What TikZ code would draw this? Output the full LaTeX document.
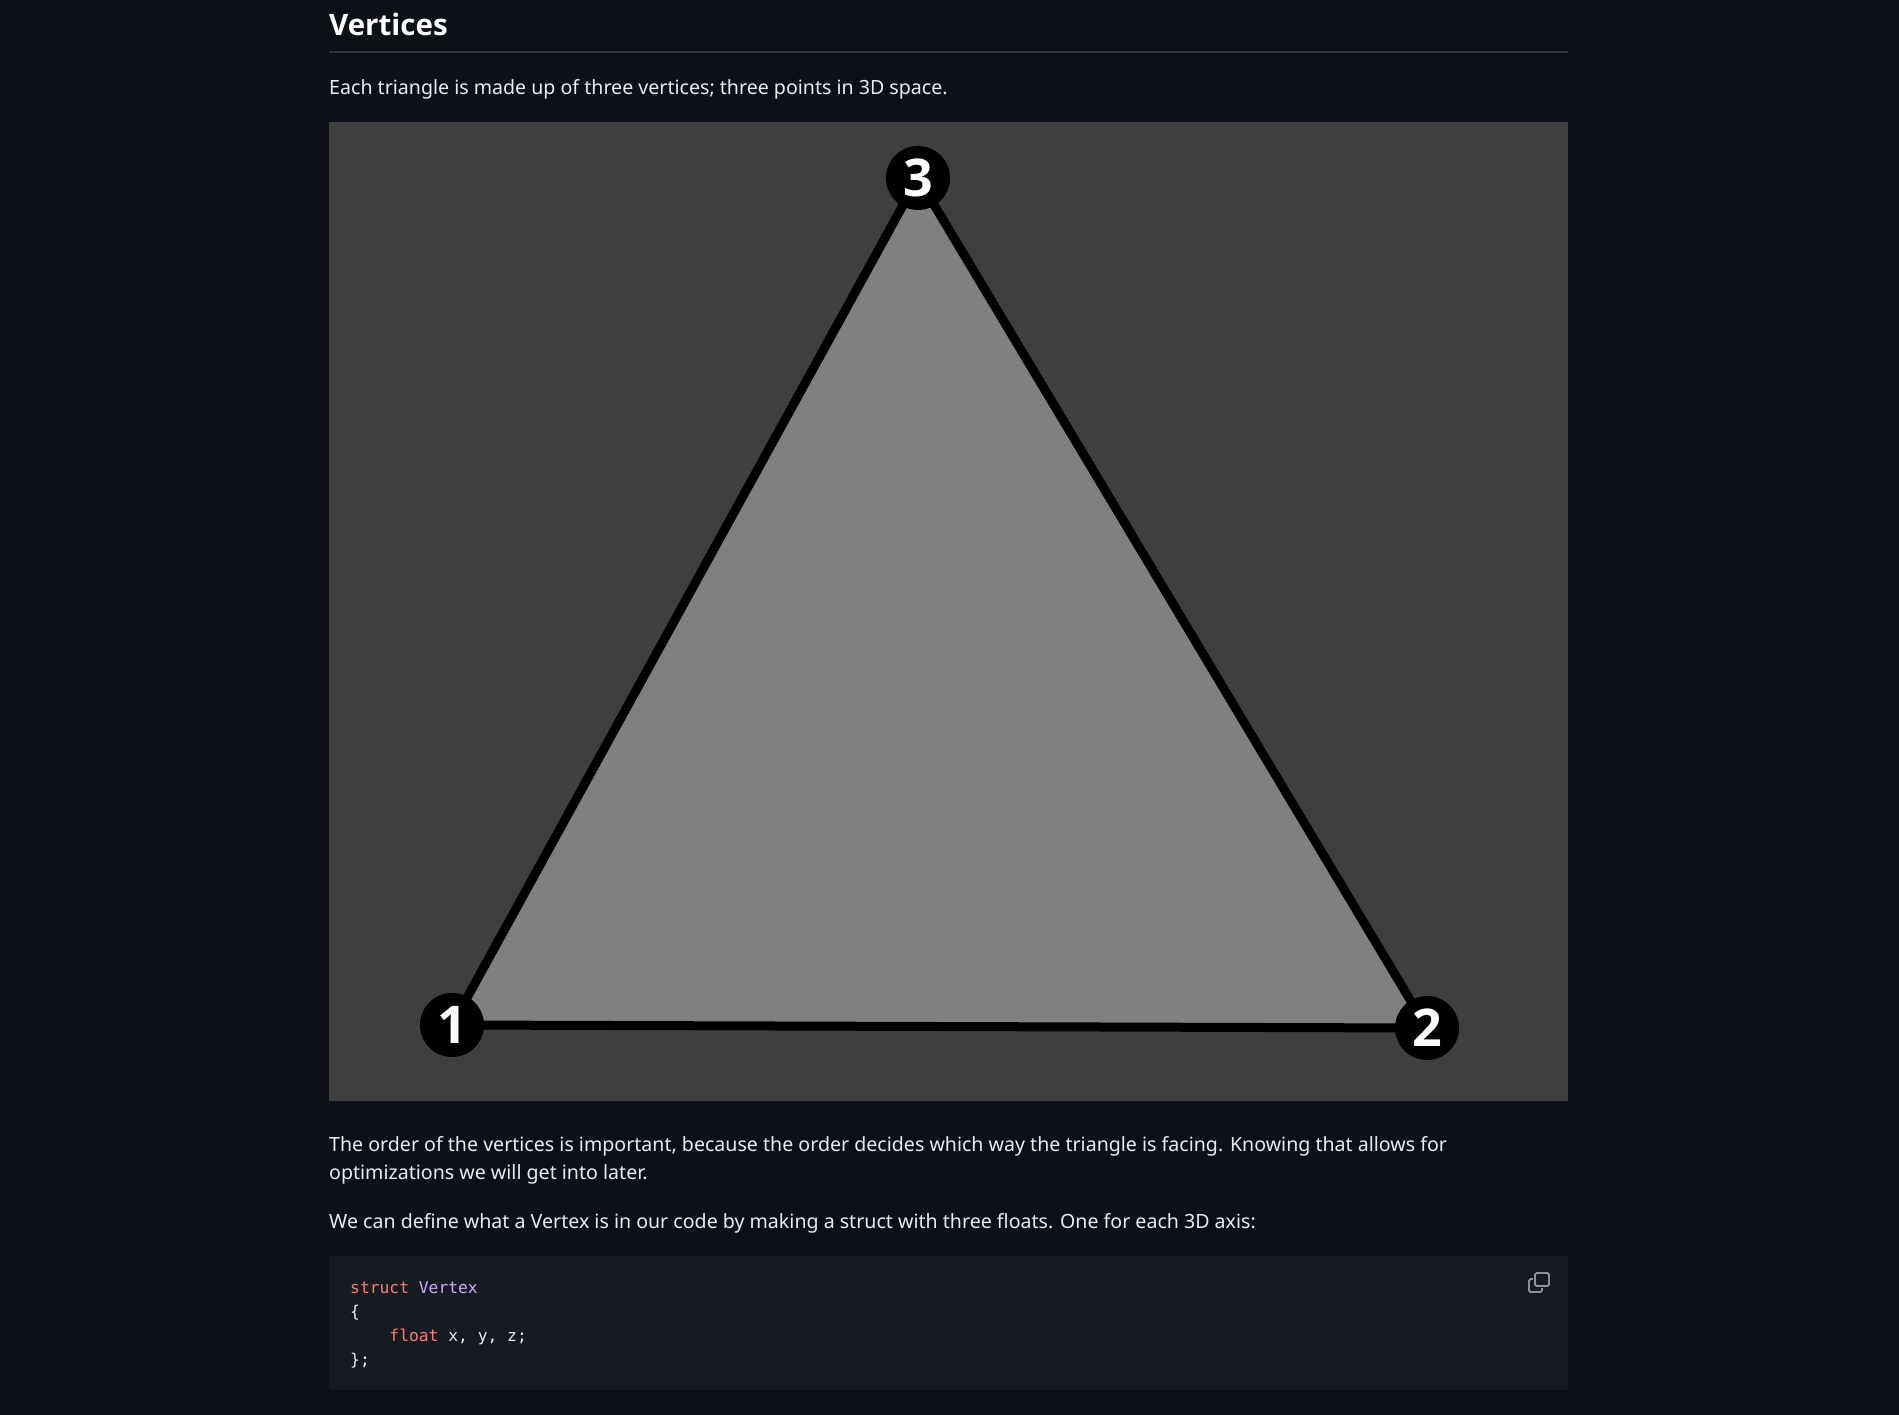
\documentclass[tikz,border=0pt]{standalone}
\usepackage{fontspec}
\setmainfont{Noto Sans}
\newfontfamily\headfont{Open Sans}
\setmonofont{DejaVu Sans Mono}
\usetikzlibrary{positioning}
\definecolor{pagebg}{HTML}{0D1117}
\definecolor{codebg}{HTML}{161B22}
\definecolor{rulecol}{HTML}{30363D}
\definecolor{bodytext}{HTML}{E6EDF3}
\definecolor{imgbg}{HTML}{3F3F3F}
\definecolor{trifill}{HTML}{808080}
\definecolor{kwred}{HTML}{FF7B72}
\definecolor{typepurple}{HTML}{D2A8FF}
\definecolor{iconcol}{HTML}{8B949E}

\begin{document}
\begin{tikzpicture}[x=1pt,y=-1pt,
    txt/.style={anchor=base west,inner sep=0pt,text=bodytext,font=\fontsize{19.6}{28}\selectfont},
    codeline/.style={anchor=base west,inner sep=0pt,text=bodytext,font=\ttfamily\fontsize{16.3}{24}\selectfont},
    vert/.style={circle,fill=black,minimum size=64pt,inner sep=0pt,text=white,font=\headfont\bfseries\fontsize{52}{52}\selectfont},
    edge/.style={draw=black,line width=9pt,line cap=round}]

    \useasboundingbox (0,0) rectangle (1899,1415);
    \fill[pagebg] (0,0) rectangle (1899,1415);

    \node[anchor=base west,inner sep=0pt,text=white,font=\headfont\bfseries\fontsize{29.5}{34}\selectfont] (title) at (329,36) {Vertices};
    \draw[rulecol,line width=1.2pt] (329,52) -- (1568,52);
    \node[txt] (intro) at (329,95) {Each triangle is made up of three vertices; three points in 3D space.};

    % picture of the triangle
    \fill[imgbg] (329,122) rectangle (1568,1101);
    \coordinate (p1) at (452,1025);
    \coordinate (p2) at (1427,1028);
    \coordinate (p3) at (918,178);
    \fill[trifill] (p1) -- (p2) -- (p3) -- cycle;
    \draw[edge] (p1) -- (p2);
    \draw[edge] (p2) -- (p3);
    \draw[edge] (p3) -- (p1);
    \node[vert] (v1) at (p1) {1};
    \node[vert] (v2) at (p2) {2};
    \node[vert] (v3) at (p3) {3};

    \node[txt] (order1) at (329,1151) {The order of the vertices is important, because the order decides which way the triangle is facing. Knowing that allows for};
    \node[txt] (order2) at (329,1179) {optimizations we will get into later.};
    \node[txt] (define) at (329,1228) {We can define what a Vertex is in our code by making a struct with three floats. One for each 3D axis:};

    % code block
    \fill[codebg] (329,1256) rectangle (1568,1390);
    \node[codeline] (c1) at (350,1293) {\textcolor{kwred}{struct} \textcolor{typepurple}{Vertex}};
    \node[codeline] (c2) at (350,1317) {\{};
    \node[codeline] (c3) at (350,1341) {\phantom{xxxx}\textcolor{kwred}{float} x, y, z;};
    \node[codeline] (c4) at (350,1365) {\};};

    % copy icon
    \draw[iconcol,line width=1.8pt,rounded corners=1.5pt] (1535,1273) rectangle (1549,1286);
    \draw[iconcol,line width=1.8pt,rounded corners=1.5pt] (1533,1279) -- (1529,1279) -- (1529,1292) -- (1542,1292) -- (1542,1288);

\end{tikzpicture}
\end{document}
